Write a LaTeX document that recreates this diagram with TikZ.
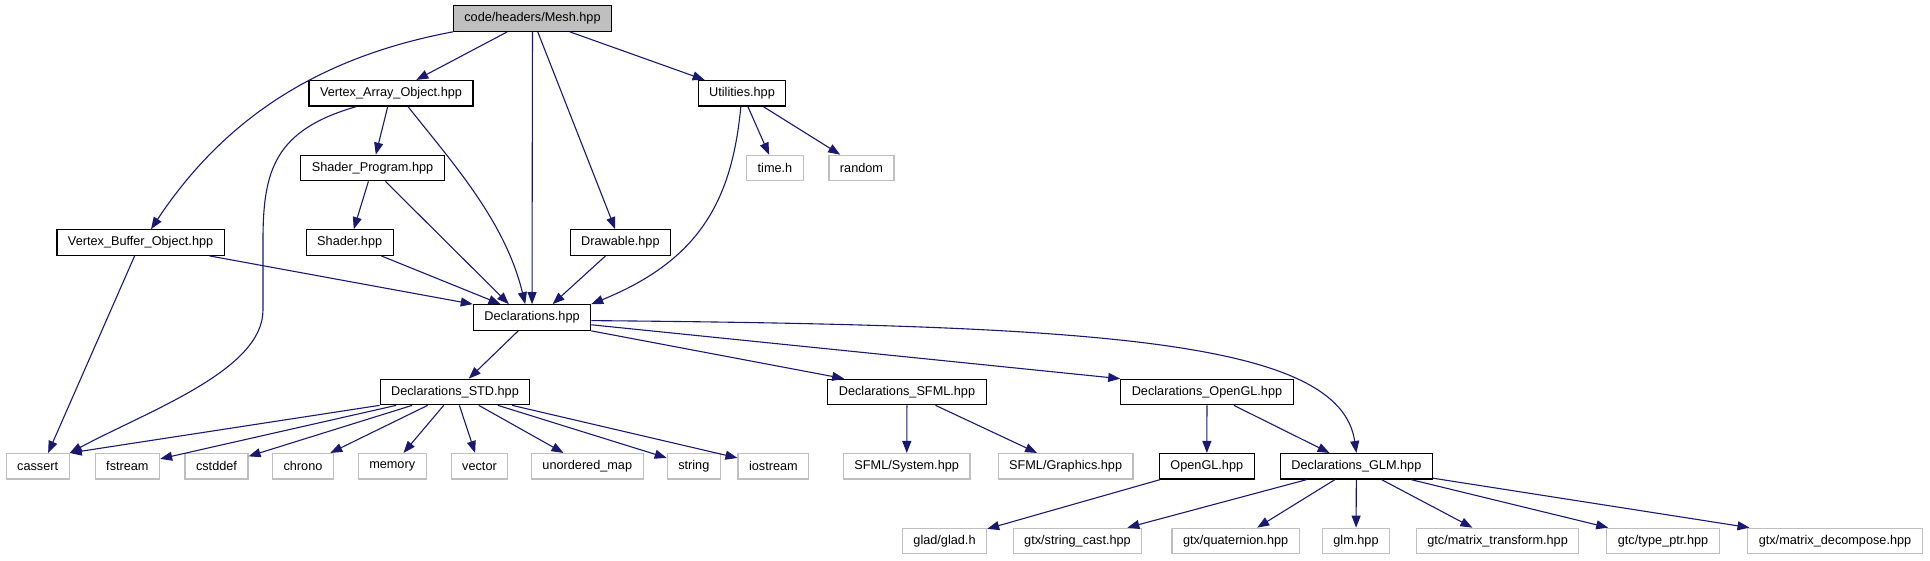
\documentclass[tikz,border=0pt]{standalone}
\usepackage{fontspec}
\setmainfont{Liberation Sans}
\usepackage{xcolor}
\usepackage{tikz}
\usetikzlibrary{arrows.meta}
\definecolor{edgeblue}{RGB}{25,25,112}
\definecolor{extgray}{RGB}{191,191,191}

\begin{document}
\begin{tikzpicture}[
  x=1pt, y=-1pt,
  edge/.style={-{Triangle[length=12pt, width=9pt]}, draw=edgeblue, line width=1.1pt},
  doc/.style={draw=black, line width=1.2pt, fill=white, inner xsep=11pt, inner ysep=0pt,
              minimum height=25.5pt, font=\fontsize{12.7}{14}\selectfont},
  ext/.style={doc, draw=extgray},
  root/.style={doc, fill=extgray},
]
  \useasboundingbox (0,0) rectangle (1930,560);

  % ---- Headers of the project ----
  \node[root] (mesh) at (532.5,18.5) {code/headers/Mesh.hpp};
  \node[doc] (vao) at (391,93.3) {Vertex\_Array\_Object.hpp};
  \node[doc] (util) at (742,93.3) {Utilities.hpp};
  \node[doc] (sprog) at (372.5,168) {Shader\_Program.hpp};
  \node[doc] (vbo) at (140.6,242.5) {Vertex\_Buffer\_Object.hpp};
  \node[doc] (shader) at (349.7,242.5) {Shader.hpp};
  \node[doc] (drawable) at (620.4,242.5) {Drawable.hpp};
  \node[doc] (decl) at (532,317.5) {Declarations.hpp};
  \node[doc] (dstd) at (455,392) {Declarations\_STD.hpp};
  \node[doc] (dsfml) at (907,392) {Declarations\_SFML.hpp};
  \node[doc] (dogl) at (1207,392) {Declarations\_OpenGL.hpp};
  \node[doc] (opengl) at (1206.8,466.3) {OpenGL.hpp};
  \node[doc] (dglm) at (1356.4,466.3) {Declarations\_GLM.hpp};

  % ---- System / library headers ----
  \node[ext] (timeh) at (775,168) {time.h};
  \node[ext] (rnd) at (861.5,168) {random};
  \node[ext] (cassert) at (37.7,466.3) {cassert};
  \node[ext] (fstream) at (127.4,466.3) {fstream};
  \node[ext] (cstddef) at (216.5,466.3) {cstddef};
  \node[ext] (chrono) at (303,466.3) {chrono};
  \node[ext] (memory) at (392.2,466.3) {memory};
  \node[ext] (vector) at (479.5,466.3) {vector};
  \node[ext] (umap) at (587.3,466.3) {unordered\_map};
  \node[ext] (string) at (693.8,466.3) {string};
  \node[ext] (iostream) at (773.4,466.3) {iostream};
  \node[ext] (sfsys) at (906.7,466.3) {SFML/System.hpp};
  \node[ext] (sfgfx) at (1065.6,466.3) {SFML/Graphics.hpp};
  \node[ext] (glad) at (944.5,541) {glad/glad.h};
  \node[ext] (strcast) at (1077.5,541) {gtx/string\_cast.hpp};
  \node[ext] (quat) at (1235.6,541) {gtx/quaternion.hpp};
  \node[ext] (glm) at (1356,541) {glm.hpp};
  \node[ext] (mtrans) at (1497.6,541) {gtc/matrix\_transform.hpp};
  \node[ext] (typeptr) at (1663,541) {gtc/type\_ptr.hpp};
  \node[ext] (mdecomp) at (1835,541) {gtx/matrix\_decompose.hpp};

  % ---- Includes of Mesh.hpp ----
  \draw[edge] (mesh.south west) .. controls (330,55) and (230,110) .. (vbo.52);
  \draw[edge] (mesh) -- (vao);
  \draw[edge] (mesh) -- (decl);
  \draw[edge] (mesh) -- (drawable);
  \draw[edge] (mesh) -- (util);

  % ---- Upper headers ----
  \draw[edge] (vao) -- (sprog);
  \draw[edge] (vao.-38) .. controls (450,160) and (505,220) .. (decl.117);
  \draw[edge] (vao.-159) .. controls (275,130) and (263,170) .. (263,240) -- (263,310)
              .. controls (263,370) and (150,410) .. (cassert.north east);
  \draw[edge] (util) -- (timeh);
  \draw[edge] (util) -- (rnd);
  \draw[edge] (util.-95) .. controls (732,200) and (700,260) .. (decl.north east);
  \draw[edge] (sprog) -- (shader);
  \draw[edge] (sprog.-46) -- (decl.150);
  \draw[edge] (vbo.-11) -- (decl.north west);
  \draw[edge] (vbo.-114) -- (cassert.52);
  \draw[edge] (shader.-23) -- (decl.157);
  \draw[edge] (drawable.-138) -- (decl.33);

  % ---- Declarations.hpp ----
  \draw[edge] (decl) -- (dstd);
  \draw[edge] (decl.south east) -- (dsfml.168);
  \draw[edge] (decl.-7) -- (dogl.north west);
  \draw[edge] (decl.-3) .. controls (1100,325) and (1340,340) .. (dglm.north);

  % ---- Declarations_STD.hpp ----
  \draw[edge] (dstd.south west) -- (cassert.north east);
  \foreach \n in {fstream,cstddef,chrono,memory,vector,umap,string,iostream}
    \draw[edge] (dstd) -- (\n);

  % ---- SFML / OpenGL / GLM ----
  \draw[edge] (dsfml) -- (sfsys);
  \draw[edge] (dsfml) -- (sfgfx);
  \draw[edge] (dogl) -- (opengl);
  \draw[edge] (dogl) -- (dglm);
  \draw[edge] (opengl) -- (glad);
  \foreach \n in {strcast,quat,glm,mtrans,typeptr,mdecomp}
    \draw[edge] (dglm) -- (\n);
\end{tikzpicture}
\end{document}
